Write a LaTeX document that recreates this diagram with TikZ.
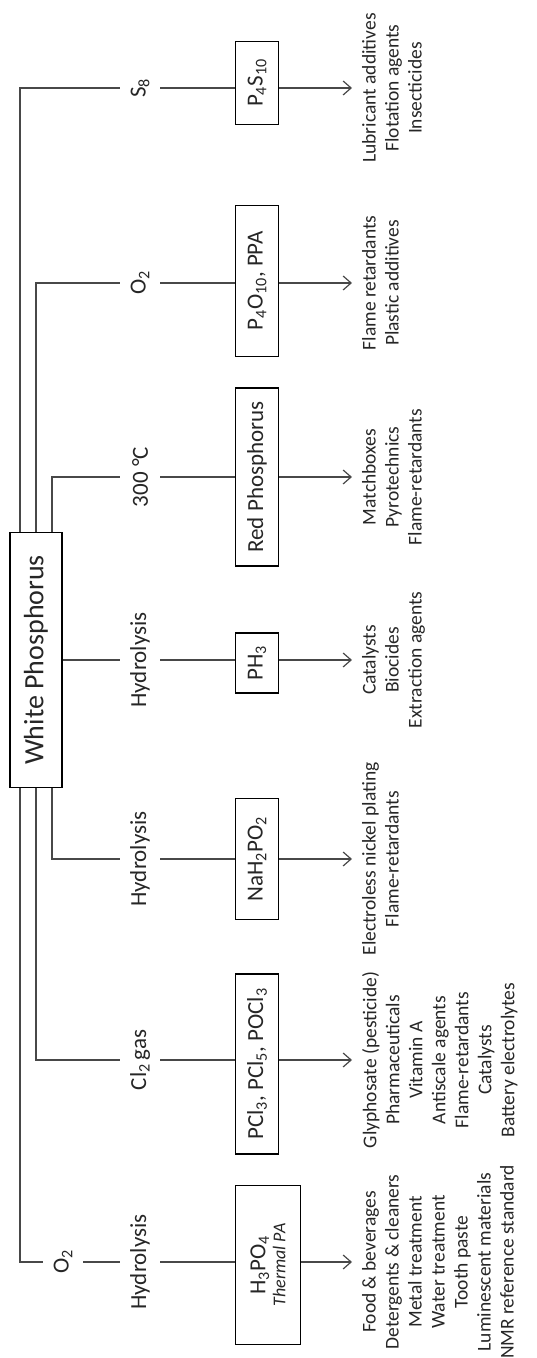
\documentclass[tikz,border=0pt]{standalone}
\usepackage{fontspec}
\setmainfont{Carlito}
\usetikzlibrary{arrows.meta, positioning}
\definecolor{linegray}{RGB}{72,72,72}
\definecolor{inkgray}{RGB}{38,38,38}
\tikzset{
  srcbox/.style = {draw=black, line width=1.1pt, rotate=90, minimum width=255pt,
                   minimum height=52pt, font=\fontsize{28}{32}\selectfont, text=inkgray},
  wbox/.style   = {draw=black, line width=1.1pt, fill=white, rotate=90, anchor=north,
                   minimum height=43pt, inner xsep=4pt, align=center,
                   font=\fontsize{23}{26}\selectfont, text=inkgray},
  cond/.style   = {rotate=90, minimum height=40pt, inner xsep=0pt,
                   font=\fontsize{23}{26}\selectfont, text=inkgray},
  uses/.style   = {rotate=90, anchor=north, align=center, inner sep=0pt,
                   font=\fontsize{19.5}{23}\selectfont, text=inkgray},
  link/.style   = {line width=1.2pt, draw=linegray},
  arrow/.style  = {link, -{Straight Barb[length=8pt, width=14pt]}},
}

\begin{document}
\begin{tikzpicture}[x=1pt, y=1pt]
\useasboundingbox (0,0) rectangle (537,1358);

% ---------------- source ----------------
\node[srcbox] (wp) at (36,698) {White Phosphorus};
\coordinate (tipline) at (352,0);

% ---------------- O2, hydrolysis ----------------
\node[cond] (o2a) at (63,96) {O\textsubscript{2}};
\node[cond] (hyda) at (140,96) {Hydrolysis};
\node[wbox, minimum height=65pt, minimum width=159pt] (h3po4) at (235,93)
  {H\textsubscript{3}PO\textsubscript{4}\\[-6pt]{\fontsize{18}{20}\selectfont\itshape Thermal PA}};
\node[uses] (usea) at (362,96) {Food \& beverages\\Detergents \& cleaners\\Metal treatment\\
  Water treatment\\Tooth paste\\Luminescent materials\\NMR reference standard};

\draw[link] ([xshift=-16pt]wp.west) |- (o2a.north);
\draw[link] (o2a) -- (hyda);
\draw[link] (hyda) -- (hyda -| h3po4.north);
\draw[arrow] (h3po4.south |- usea.north) -- (usea.north -| tipline);

% ---------------- Cl2 gas ----------------
\node[cond] (cl2) at (140,298) {Cl\textsubscript{2}\,gas};
\node[wbox, minimum width=180pt] (pcl) at (235,294)
  {PCl\textsubscript{3}, PCl\textsubscript{5}, POCl\textsubscript{3}};
\node[uses] (useb) at (362,298) {Glyphosate (pesticide)\\Pharmaceuticals\\Vitamin A\\
  Antiscale agents\\Flame-retardants\\Catalysts\\Battery electrolytes};

\draw[link] (wp.west) |- (cl2.north);
\draw[link] (cl2) -- (cl2 -| pcl.north);
\draw[arrow] (pcl.south |- useb.north) -- (useb.north -| tipline);

% ---------------- hydrolysis to hypophosphite ----------------
\node[cond] (hydb) at (140,499) {Hydrolysis};
\node[wbox, minimum width=121pt] (nah) at (235,499) {NaH\textsubscript{2}PO\textsubscript{2}};
\node[uses] (usec) at (362,499) {Electroless nickel plating\\Flame-retardants};

\draw[link] ([xshift=16pt]wp.west) |- (hydb.north);
\draw[link] (hydb) -- (nah);
\draw[arrow] (nah.south) -- (nah.south -| tipline);

% ---------------- hydrolysis to phosphine ----------------
\node[cond] (hydc) at (140,698) {Hydrolysis};
\node[wbox, minimum width=60pt] (ph3) at (235,695) {PH\textsubscript{3}};
\node[uses] (used) at (362,698) {Catalysts\\Biocides\\Extraction agents};

\draw[link] (wp.south) -- (hydc);
\draw[link] (hydc) -- (hydc -| ph3.north);
\draw[arrow] (ph3.south |- used.north) -- (used.north -| tipline);

% ---------------- 300 C ----------------
\node[cond] (heat) at (140,881) {300 °C};
\node[wbox, minimum width=178pt] (redp) at (235,881) {Red Phosphorus};
\node[uses] (usee) at (362,881) {Matchboxes\\Pyrotechnics\\Flame-retardants};

\draw[link] ([xshift=16pt]wp.east) |- (heat.north);
\draw[link] (heat) -- (redp);
\draw[arrow] (redp.south) -- (redp.south -| tipline);

% ---------------- O2 ----------------
\node[cond] (o2b) at (140,1075) {O\textsubscript{2}};
\node[wbox, minimum width=151pt] (p4o) at (235,1077) {P\textsubscript{4}O\textsubscript{10}, PPA};
\node[uses] (usef) at (362,1075) {Flame retardants\\Plastic additives};

\draw[link] (wp.east) |- (o2b.north);
\draw[link] (o2b) -- (o2b -| p4o.north);
\draw[arrow] (p4o.south |- usef.north) -- (usef.north -| tipline);

% ---------------- S8 ----------------
\node[cond] (s8) at (140,1270) {S\textsubscript{8}};
\node[wbox, minimum width=83pt] (p4s) at (235,1275) {P\textsubscript{4}S\textsubscript{10}};
\node[uses] (useg) at (362,1270) {Lubricant additives\\Flotation agents\\Insecticides};

\draw[link] ([xshift=-16pt]wp.east) |- (s8.north);
\draw[link] (s8) -- (s8 -| p4s.north);
\draw[arrow] (p4s.south |- useg.north) -- (useg.north -| tipline);

\end{tikzpicture}
\end{document}
